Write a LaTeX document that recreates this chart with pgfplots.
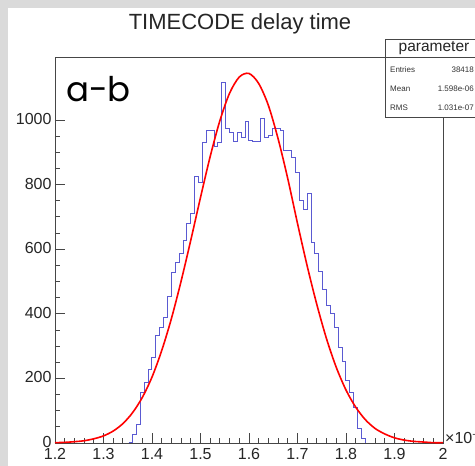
\documentclass[border=0pt]{standalone}
\usepackage{fontspec}
\setmainfont{Liberation Sans}
\newfontfamily\geofont{Poppins}
\usepackage{pgfplots}
\pgfplotsset{compat=1.18}
\definecolor{histblue}{RGB}{90,90,210}
\definecolor{bggray}{RGB}{218,218,218}
\definecolor{framegray}{RGB}{70,70,70}
\begin{document}
\begin{tikzpicture}[x=1pt,y=1pt]
\useasboundingbox (0,0) rectangle (475,466);
\fill[bggray] (0,0) rectangle (475,466);
\fill[white] (8,0) rectangle (475,458);
\node[font=\fontsize{22}{24}\selectfont, text=black!85] at (240,442) {TIMECODE delay time};
\begin{axis}[
    at={(55pt,23pt)}, anchor=south west,
    scale only axis, width=388pt, height=386pt,
    xmin=1.2, xmax=2, ymin=0, ymax=1195,
    xtick={1.2,1.3,1.4,1.5,1.6,1.7,1.8,1.9,2.0},
    xticklabels={1.2,1.3,1.4,1.5,1.6,1.7,1.8,1.9,2},
    minor x tick num=4,
    ytick={0,200,400,600,800,1000},
    yticklabels={0,200,400,600,800,1000},
    minor y tick num=3,
    tick align=inside, xtick pos=bottom, ytick pos=left,
    major tick length=10pt, minor tick length=5pt,
    axis line style={framegray, line width=0.8pt},
    tick style={framegray, line width=0.8pt},
    ticklabel style={font=\fontsize{16}{18}\selectfont, text=black!85},
    xticklabel style={yshift=-2pt},
    yticklabel style={yshift=1pt},
    /pgf/number format/assume math mode=true,
    scaled x ticks=false, scaled y ticks=false,
    clip=false]
% histogram, bin width 0.008
\addplot[const plot, histblue, line width=1pt] table {
1.352 0
1.360 25
1.368 56
1.376 155
1.384 186
1.392 226
1.400 266
1.408 334
1.416 359
1.424 390
1.432 452
1.440 529
1.448 560
1.456 588
1.464 628
1.472 681
1.480 712
1.488 824
1.496 805
1.504 929
1.512 966
1.520 966
1.528 919
1.536 929
1.544 1115
1.552 975
1.560 960
1.568 932
1.576 960
1.584 947
1.592 994
1.600 938
1.608 932
1.616 932
1.624 1006
1.632 947
1.640 953
1.648 975
1.656 975
1.664 966
1.672 907
1.680 907
1.688 885
1.696 836
1.704 752
1.712 724
1.720 771
1.728 622
1.736 588
1.744 532
1.752 474
1.760 427
1.768 402
1.776 359
1.784 297
1.792 251
1.800 195
1.808 155
1.816 111
1.824 46
1.832 15
1.840 0
};
% fitted curve
\addplot[red, line width=1.6pt, smooth] table {
1.20 1
1.22 2
1.24 4
1.26 7
1.28 13
1.30 22
1.32 37
1.34 60
1.36 94
1.38 141
1.40 204
1.42 286
1.44 385
1.46 501
1.48 628
1.50 760
1.52 887
1.54 998
1.56 1083
1.58 1133
1.60 1144
1.62 1113
1.64 1045
1.66 942
1.68 818
1.70 680
1.72 548
1.74 428
1.76 322
1.78 234
1.80 164
1.82 111
1.84 72
1.86 45
1.88 28
1.90 16
1.92 9
1.94 5
1.96 3
1.98 1
2.00 1
};
\end{axis}
% stats box
\draw[framegray, line width=0.8pt, fill=white] (385,349) rectangle (480,427);
\draw[framegray, line width=0.8pt] (385,409) -- (480,409);
\node[font=\fontsize{15.5}{17}\selectfont, text=black!85] at (434,418) {parameter};
\begin{scope}[every node/.style={font=\fontsize{8}{9}\selectfont, text=black!80, inner sep=0pt}]
\node[anchor=west] at (390,396) {Entries};
\node[anchor=east] at (474,396) {38418};
\node[anchor=west] at (390,377) {Mean};
\node[anchor=east] at (474,377) {1.598e-06};
\node[anchor=west] at (390,358) {RMS};
\node[anchor=east] at (474,358) {1.031e-07};
\end{scope}
\node[anchor=west, font=\fontsize{16}{18}\selectfont, text=black!85, inner sep=0pt] at (445,29) {×10\raisebox{0.6ex}{\fontsize{11}{12}\selectfont −6}};
\node[anchor=base west, font=\geofont\fontsize{34}{36}\selectfont, inner sep=0pt] at (66,364) {a-b};
\end{tikzpicture}
\end{document}
